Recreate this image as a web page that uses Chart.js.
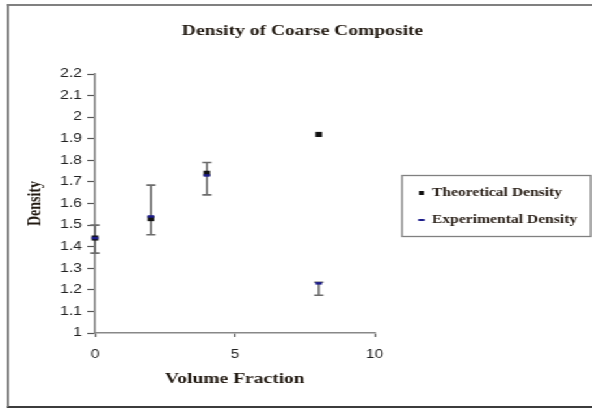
<!DOCTYPE html>
<html>
<head>
<meta charset="utf-8">
<script src="https://cdn.jsdelivr.net/npm/chart.js@4.4.1/dist/chart.umd.min.js"></script>
<style>
  html, body { margin: 0; padding: 0; background: #fff; overflow: hidden; }
  /* the reference is stretched sideways, so draw narrow and scale the whole box */
  #wrap { position: absolute; left: 0; top: 0; width: 455px; height: 409px;
          transform: scaleX(1.301); transform-origin: 0 0; }
  #frame { position: absolute; left: 4.5px; top: 4px; width: 470px; height: 400px;
           border: 2px solid #808080; border-bottom: 2px solid #3c3c3c; }
  #chart { position: absolute; left: 0; top: 0; }
</style>
</head>
<body>
<div id="wrap">
  <div id="frame"></div>
  <canvas id="chart" width="455" height="409"></canvas>
</div>
<script>
// Volume fraction (x) for each sample
const volumeFraction = [0, 2, 4, 8]
const theoreticalDensity = [1.44, 1.53, 1.74, 1.92]
const experimentalDensity = [1.44, 1.54, 1.73, 1.23]
// error bar ends for the experimental series
const errHigh = [1.50, 1.685, 1.79, 1.235]
const errLow = [1.37, 1.455, 1.64, 1.175]

const xTicks = [0, 5, 10]
const yTicks = [1, 1.1, 1.2, 1.3, 1.4, 1.5, 1.6, 1.7, 1.8, 1.9, 2, 2.1, 2.2]

const serif = "'Liberation Serif', 'Times New Roman', serif"
const sans = "'Liberation Sans', Arial, sans-serif"

const errorBars = {
  id: "errorBars",
  beforeDatasetsDraw(chart) {
    const { ctx, scales } = chart
    ctx.save()
    ctx.strokeStyle = "#6b6b6b"
    ctx.lineWidth = 1.6
    volumeFraction.forEach((v, i) => {
      const x = scales.x.getPixelForValue(v)
      const yh = scales.y.getPixelForValue(errHigh[i])
      const yl = scales.y.getPixelForValue(errLow[i])
      ctx.beginPath()
      ctx.moveTo(x, yh)
      ctx.lineTo(x, yl)
      ctx.moveTo(x - 3.5, yh)
      ctx.lineTo(x + 3.5, yh)
      ctx.moveTo(x - 3.5, yl)
      ctx.lineTo(x + 3.5, yl)
      ctx.stroke()
    })
    ctx.restore()
  },
}

// legend box on the right, drawn from the dataset styles
const boxLegend = {
  id: "boxLegend",
  afterDraw(chart) {
    const { ctx } = chart
    const left = 309, top = 175.5, w = 145, h = 61
    ctx.save()
    ctx.strokeStyle = "#808080"
    ctx.lineWidth = 1.3
    ctx.strokeRect(left, top, w, h)
    ctx.font = "bold 12px " + serif
    ctx.textBaseline = "middle"
    const rows = [193, 220]
    chart.data.datasets.slice().reverse().forEach((ds, i) => {
      const y = rows[i]
      if (ds.pointStyle === "rect") {
        ctx.fillStyle = ds.pointBackgroundColor
        ctx.fillRect(322, y - 2, 4, 4)
      } else {
        ctx.strokeStyle = ds.pointBorderColor
        ctx.lineWidth = 2
        ctx.beginPath()
        ctx.moveTo(321.5, y)
        ctx.lineTo(326.5, y)
        ctx.stroke()
      }
      ctx.fillStyle = "#2a2018"
      ctx.fillText(ds.label, 332, y)
    })
    ctx.restore()
  },
}

new Chart(document.getElementById("chart"), {
  type: "scatter",
  data: {
    datasets: [
      {
        label: "Experimental Density",
        data: volumeFraction.map((v, i) => ({ x: v, y: experimentalDensity[i] })),
        pointStyle: "line",
        pointRadius: 2.5,
        pointBorderWidth: 2.5,
        pointBorderColor: "#1c1c8a",
        pointBackgroundColor: "#1c1c8a",
        clip: false,
      },
      {
        label: "Theoretical Density",
        data: volumeFraction.map((v, i) => ({ x: v, y: theoreticalDensity[i] })),
        pointStyle: "rect",
        pointRadius: 3.6,
        pointBorderWidth: 0,
        pointBackgroundColor: "#111",
        pointBorderColor: "#111",
        clip: false,
      },
    ],
  },
  options: {
    responsive: false,
    animation: false,
    devicePixelRatio: 1,
    layout: { padding: { left: 15, right: 5, top: 0, bottom: 17 } },
    plugins: {
      legend: { display: false },
      tooltip: { enabled: false },
      title: {
        display: true,
        text: "Density of Coarse Composite",
        color: "#221a12",
        font: { family: serif, size: 15, weight: "bold", lineHeight: 1.2 },
        padding: { top: 22, bottom: 34 },
        align: "center",
      },
    },
    scales: {
      x: {
        type: "linear",
        min: 0,
        max: 10,
        afterBuildTicks: (s) => { s.ticks = xTicks.map((v) => ({ value: v })) },
        afterFit: (s) => { s.height = 59 },
        ticks: { color: "#222", font: { family: sans, size: 12 }, padding: 10 },
        grid: { drawOnChartArea: false, drawTicks: true, tickLength: 4, color: "#555", tickWidth: 1.2 },
        border: { color: "#888", width: 1.6 },
        title: {
          display: true,
          text: "Volume Fraction",
          color: "#221a12",
          font: { family: serif, size: 15, weight: "bold", lineHeight: 1.2 },
          padding: { top: 4, bottom: 4 },
        },
      },
      y: {
        min: 1,
        max: 2.2,
        afterBuildTicks: (s) => { s.ticks = yTicks.map((v) => ({ value: v })) },
        afterFit: (s) => { s.width = 58 },
        ticks: {
          color: "#222",
          font: { family: sans, size: 12 },
          padding: 4,
          callback: (v) => String(Math.round(v * 10) / 10),
        },
        grid: { drawOnChartArea: false, drawTicks: true, tickLength: 6, color: "#555", tickWidth: 1.2 },
        border: { color: "#888", width: 1.6 },
        title: {
          display: true,
          text: "Density",
          color: "#221a12",
          font: { family: serif, size: 14, weight: "bold", lineHeight: 1.2 },
          padding: { top: 4, bottom: 4 },
        },
      },
      // empty right-hand box that keeps the plot narrow and leaves room for the legend
      spacer: {
        type: "linear",
        position: "right",
        display: true,
        ticks: { display: false },
        grid: { display: false },
        border: { display: false },
        afterFit: (s) => { s.width = 162 },
      },
    },
  },
  plugins: [errorBars, boxLegend],
})
</script>
</body>
</html>
